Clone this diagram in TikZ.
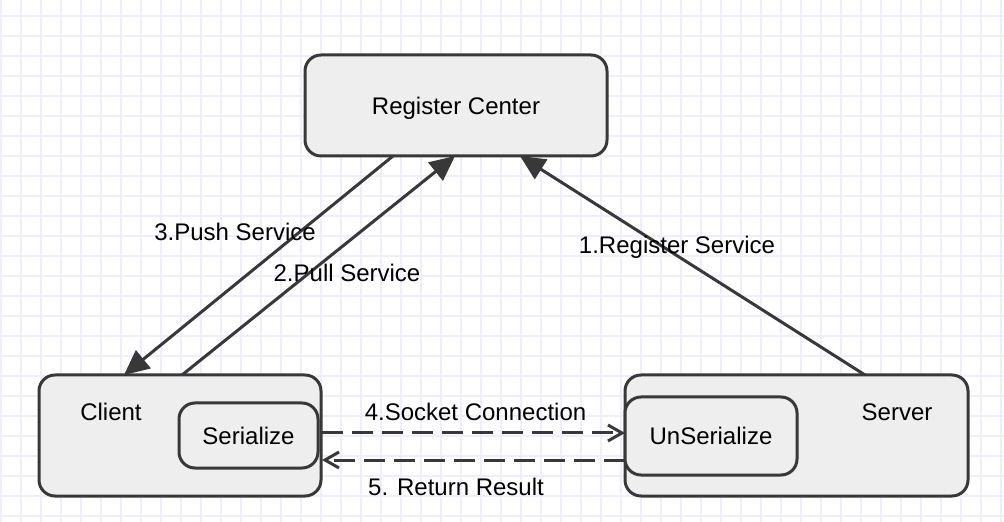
\documentclass[tikz,border=0pt]{standalone}
\usepackage{fontspec}
\setmainfont{Liberation Sans}
\usetikzlibrary{arrows.meta}
\definecolor{gridc}{HTML}{EFEFFC}
\definecolor{boxfill}{HTML}{EEEEEE}
\definecolor{edge}{HTML}{383838}
\begin{document}
\begin{tikzpicture}[x=0.5pt,y=-0.5pt,
  box/.style={draw=edge, fill=boxfill, line width=1.5pt, rounded corners=8pt, inner sep=0pt, font=\fontsize{12pt}{14pt}\selectfont, text height=8.6pt, text depth=0pt},
  lbl/.style={font=\fontsize{12pt}{14pt}\selectfont, inner sep=0pt, text height=8.6pt, text depth=0pt},
  solidarrow/.style={draw=edge, line width=1.5pt, -{Triangle[length=12.5pt,width=11.5pt]}},
  dasharrow/.style={draw=edge, line width=1.5pt, dash pattern=on 10.5pt off 4.5pt, -{Straight Barb[length=7pt,width=8pt,line width=1.5pt]}}
]
\useasboundingbox (0,0) rectangle (1004,522);
\fill[white] (0,0) rectangle (1004,522);
\foreach \gx in {1,21,...,1001} \draw[gridc, line width=1pt] (\gx,0) -- (\gx,522);
\foreach \gy in {16,36,...,516} \draw[gridc, line width=1pt] (0,\gy) -- (1004,\gy);

\node[box, minimum width=151pt, minimum height=50.5pt] (reg) at (456,105.5) {Register Center};
\node[box, minimum width=141pt, minimum height=60.5pt] (client) at (180,435.5) {};
\node[box, minimum width=171.5pt, minimum height=60.5pt] (server) at (796.5,435.5) {};
\node[box, minimum width=69.5pt, minimum height=32.5pt] (serial) at (248.5,435.5) {Serialize};
\node[box, minimum width=86pt, minimum height=39pt] (unser) at (711,436) {UnSerialize};
\node[lbl] (clientlbl) at (111,412) {Client};
\node[lbl] (serverlbl) at (897,412) {Server};

\coordinate (pushS) at (393,156);
\coordinate (pushE) at (124,375);
\coordinate (pullS) at (182,375);
\coordinate (pullE) at (455,156);
\coordinate (regS) at (865,375);
\coordinate (regE) at (520,156);
\coordinate (sockS) at (322,433);
\coordinate (sockE) at (625,433);
\coordinate (retS) at (625,460);
\coordinate (retE) at (322,460);

\draw[solidarrow] (pushS) -- (pushE);
\draw[solidarrow] (pullS) -- (pullE);
\draw[solidarrow] (regS) -- (regE);
\draw[dasharrow] (sockS) -- (sockE);
\draw[dasharrow] (retS) -- (retE);

\node[lbl] (l3) at (235,232) {3.Push Service};
\node[lbl] (l2) at (347,273) {2.Pull Service};
\node[lbl] (l1) at (677,245) {1.Register Service};
\node[lbl] (l4) at (475.5,412) {4.Socket Connection};
\node[lbl] (l5) at (456,487) {5. Return Result};
\end{tikzpicture}
\end{document}
